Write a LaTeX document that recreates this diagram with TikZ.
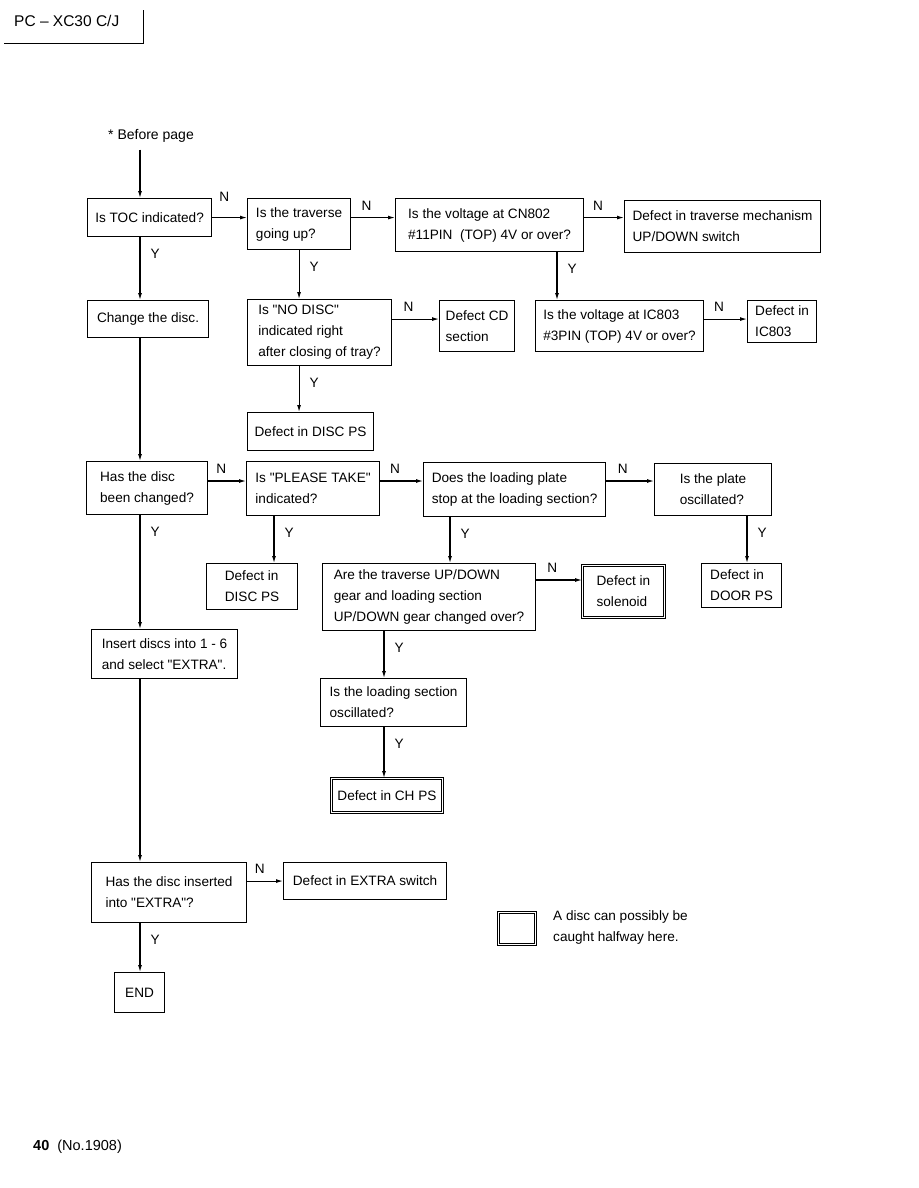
\documentclass[tikz,border=0pt]{standalone}
\usepackage{fontspec}
\setmainfont{Liberation Sans}[Ligatures=TeXOff]
\usetikzlibrary{arrows.meta}

\begin{document}
\begin{tikzpicture}[x=1pt,y=-1pt,
    every node/.style={font=\fontsize{13.6}{21}\selectfont},
    box/.style={draw,line width=1.1pt,align=left,anchor=north west,inner sep=0pt},
    dbox/.style={box,double,double distance=1.6pt,line width=0.9pt},
    txt/.style={align=left,anchor=west,inner sep=0pt},
    arr/.style={-{Latex[length=7pt,width=4pt]},line width=1.1pt},
    no/.style={pos=0.35,above=6pt,inner sep=1pt},
    yes/.style={pos=0,anchor=north west,xshift=9pt,yshift=-10pt,inner sep=1pt}]

    \useasboundingbox (0,0) rectangle (918,1188);

    % page header and footer
    \node[txt,font=\fontsize{15.5}{18}\selectfont] (head) at (14,21) {PC – XC30 C/J};
    \draw[line width=0.9pt] (4,43) -- (143,43) -- (143,10);
    \node[txt,font=\fontsize{14.5}{18}\selectfont] (foot) at (33,1147) {\textbf{40}\ \ (No.1908)};

    % columns and rows of the connectors
    \foreach \n/\x in {trunk/140,colB/274,colC/557,colD/450,colE/747,colF/384}
      \coordinate (\n) at (\x,0);
    \coordinate (rowB) at (0,481);
    \coordinate (rowC) at (0,580);

    % first row
    \node[txt,inner ysep=7pt,font=\fontsize{14}{18}\selectfont] (before) at (108,136) {* Before page};
    \node[box,minimum width=124,minimum height=38] (toc) at (87,198) {Is TOC indicated?};
    \node[box,minimum width=103,minimum height=51] (trav) at (247,198) {Is the traverse\\going up?};
    \node[box,minimum width=188,minimum height=53] (cn) at (395,198) {Is the voltage at CN802\\\#11PIN\ \ (TOP) 4V or over?};
    \node[box,minimum width=196,minimum height=52] (mech) at (624,200) {Defect in traverse mechanism\\UP/DOWN switch};

    % second row
    \node[box,minimum width=121,minimum height=37] (chg) at (87,300) {Change the disc.};
    \node[box,minimum width=144,minimum height=66] (nodisc) at (247,299) {Is "NO DISC"\\indicated right\\after closing of tray?};
    \node[box,minimum width=75,minimum height=51] (cdsec) at (439,300) {Defect CD\\section};
    \node[box,minimum width=168,minimum height=51] (ic) at (535,300) {Is the voltage at IC803\\\#3PIN (TOP) 4V or over?};
    \node[box,minimum width=69,minimum height=42] (icdef) at (747,300) {Defect in\\IC803};
    \node[box,minimum width=126,minimum height=38] (discps) at (247,412) {Defect in DISC PS};

    % third row
    \node[box,minimum width=121,minimum height=53] (has) at (86,461) {Has the disc\\been changed?};
    \node[box,minimum width=133,minimum height=54] (take) at (246,461) {Is "PLEASE TAKE"\\indicated?};
    \node[box,minimum width=182,minimum height=54] (plate) at (423,462) {Does the loading plate\\stop at the loading section?};
    \node[box,minimum width=117,minimum height=52] (plateosc) at (654,463) {Is the plate\\oscillated?};

    % fourth row
    \node[box,minimum width=91,minimum height=46] (discpsb) at (206,563) {Defect in\\DISC PS};
    \node[box,minimum width=213,minimum height=67] (gear) at (322,563) {Are the traverse UP/DOWN\\gear and loading section\\UP/DOWN gear changed over?};
    \node[dbox,minimum width=82,minimum height=52] (sol) at (582,565) {Defect in\\solenoid};
    \node[box,minimum width=80,minimum height=44] (door) at (701,563) {Defect in\\DOOR PS};

    % lower part
    \node[box,minimum width=146,minimum height=49] (insert) at (91,629) {Insert discs into 1 - 6\\and select "EXTRA".};
    \node[box,minimum width=146,minimum height=48] (loadsec) at (320,678) {Is the loading section\\oscillated?};
    \node[dbox,minimum width=111,minimum height=34] (chps) at (331,778) {Defect in CH PS};
    \node[box,minimum width=155,minimum height=60] (extra) at (91,862) {Has the disc inserted\\into "EXTRA"?};
    \node[box,minimum width=163,minimum height=37] (sw) at (283,862) {Defect in EXTRA switch};
    \node[box,minimum width=50,minimum height=40] (end) at (114,972) {END};

    % legend
    \node[dbox,minimum width=37,minimum height=32] (key) at (498,912) {};
    \node[txt] (keytxt) at (553,927) {A disc can possibly be\\caught halfway here.};

    % N branches
    \draw[arr] (toc.east) -- node[no,above=9pt]{N} (toc.east -| trav.west);
    \draw[arr] (trav.east |- toc.east) -- node[no]{N} (cn.west |- toc.east);
    \draw[arr] (cn.east |- toc.east) -- node[no]{N} (mech.west |- toc.east);
    \draw[arr] (nodisc.east |- chg.east) -- node[no]{N} (cdsec.west |- chg.east);
    \draw[arr] (ic.east |- chg.east) -- node[no]{N} (icdef.west |- chg.east);
    \draw[arr] (has.east |- rowB) -- node[no]{N} (take.west |- rowB);
    \draw[arr] (take.east |- rowB) -- node[no]{N} (plate.west |- rowB);
    \draw[arr] (plate.east |- rowB) -- node[no]{N} (plateosc.west |- rowB);
    \draw[arr] (gear.east |- rowC) -- node[no]{N} (sol.west |- rowC);
    \draw[arr] (sw.west -| extra.east) -- node[no]{N} (sw.west);

    % Y branches and main line
    \draw[arr] (before.south -| trunk) -- (toc.north -| trunk);
    \draw[arr] (toc.south -| trunk) -- node[yes]{Y} (chg.north -| trunk);
    \draw[arr] (chg.south -| trunk) -- (has.north -| trunk);
    \draw[arr] (has.south -| trunk) -- node[yes]{Y} (insert.north -| trunk);
    \draw[arr] (insert.south -| trunk) -- (extra.north -| trunk);
    \draw[arr] (extra.south -| trunk) -- node[yes]{Y} (end.north -| trunk);
    \draw[arr] (trav.south) -- node[yes]{Y} (trav.south |- nodisc.north);
    \draw[arr] (nodisc.south -| trav.south) -- node[yes]{Y} (discps.north -| trav.south);
    \draw[arr] (cn.south -| colC) -- node[yes]{Y} (ic.north -| colC);
    \draw[arr] (take.south -| colB) -- node[yes]{Y} (discpsb.north -| colB);
    \draw[arr] (plate.south -| colD) -- node[yes]{Y} (gear.north -| colD);
    \draw[arr] (plateosc.south -| colE) -- node[yes]{Y} (door.north -| colE);
    \draw[arr] (gear.south -| colF) -- node[yes]{Y} (loadsec.north -| colF);
    \draw[arr] (loadsec.south -| colF) -- node[yes]{Y} (chps.north -| colF);
  \end{tikzpicture}
\end{document}
